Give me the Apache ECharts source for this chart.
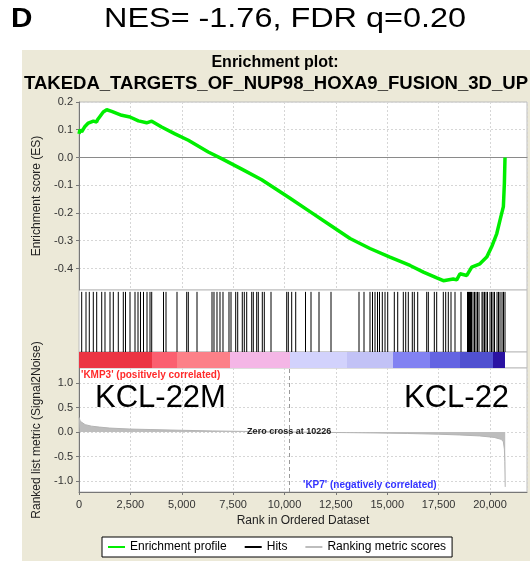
<!DOCTYPE html>
<html>
<head>
<meta charset="utf-8">
<script src="https://cdn.jsdelivr.net/npm/echarts@6/dist/echarts.min.js"></script>
<style>
  html, body { margin: 0; padding: 0; background: #fff; }
  #panel { position: absolute; left: 22px; top: 50px; width: 508px; height: 511px; background: #ece9d8; }
  #chart { position: absolute; left: 0; top: 0; width: 530px; height: 561px; }
</style>
</head>
<body>
<div id="panel"></div>
<div id="chart"></div>
<script>
// running enrichment score
const esRank = [0, 50, 130, 210, 290, 450, 520, 700, 860, 900, 1020, 1180, 1270, 1350, 1590,
  2080, 2480, 2890, 3290, 3540, 4020, 4670, 5320, 6290, 6940, 7920, 8890, 9860, 10270,
  11240, 12210, 13190, 14160, 15130, 16110, 16760, 17410, 17730, 18210, 18380, 18540,
  18870, 19110, 19510, 19840, 20080, 20330, 20490, 20650, 20700, 20730];
const esScore = [0.085, 0.1, 0.092, 0.097, 0.112, 0.124, 0.12, 0.131, 0.128, 0.136, 0.148, 0.164,
  0.16, 0.172, 0.166, 0.152, 0.146, 0.132, 0.125, 0.131, 0.11, 0.085, 0.062, 0.02, -0.004,
  -0.042, -0.08, -0.127, -0.147, -0.195, -0.243, -0.292, -0.328, -0.359, -0.389, -0.413,
  -0.434, -0.444, -0.438, -0.441, -0.419, -0.425, -0.395, -0.383, -0.359, -0.322, -0.274,
  -0.225, -0.177, -0.092, 0.0];

// positions of the gene set members in the ranked list
const hitRank = [131, 341, 501, 696, 861, 1105, 1265, 1509, 1669, 1912, 2156, 2263, 2482, 2725,
  2871, 2993, 3139, 3309, 3455, 3538, 4112, 4234, 4769, 5241, 5319, 5742, 6472, 6569, 6715,
  6861, 7007, 7299, 7397, 7625, 7723, 7946, 8044, 8161, 8404, 8482, 8647, 8725, 8920, 9017,
  9343, 10107, 10185, 10350, 10545, 11022, 11290, 11679, 12263, 13625, 13869, 14161, 14282,
  14404, 14526, 14623, 14759, 14891, 15022, 15343, 15509, 15781, 15898, 16024, 16219, 16316,
  16482, 16920, 16998, 17290, 17406, 17727, 17844, 17971, 18102, 18297, 18589, 18905, 18954,
  19002, 19051, 19100, 19173, 19246, 19319, 19392, 19465, 19611, 19659, 19732, 19805, 19878,
  20000, 20073, 20146, 20219, 20341, 20414, 20487, 20584, 20657, 20730];

// ranked list metric (Signal2Noise)
const metricRank = [0, 20, 60, 150, 300, 600, 1000, 1500, 2500, 3500, 5000, 6500, 8000, 9200,
  10226, 11500, 13000, 14500, 16000, 17500, 18500, 19500, 20200, 20550, 20650, 20700, 20720, 20740];
const metricValue = [0.3, 0.26, 0.22, 0.18, 0.15, 0.12, 0.1, 0.08, 0.06, 0.05, 0.035, 0.022,
  0.012, 0.005, 0, -0.006, -0.012, -0.02, -0.03, -0.045, -0.06, -0.08, -0.11, -0.15, -0.2,
  -0.35, -0.6, -1.12];

// edges of the colour band below the hits
const bandEdges = [0, 3552, 4769, 7348, 10268, 13041, 15280, 17080, 18540, 20146, 20730];

const esTicks = [0.2, 0.1, 0, -0.1, -0.2, -0.3, -0.4];
const metricTicks = [1, 0.5, 0, -0.5, -1];
const zeroCross = 10226;
const rankMax = 21800;

const bandColors = ['#ec3443', '#fb5f70', '#fc8088', '#f4b6e6', '#d2d2fc', '#c2c2f6',
  '#8282f2', '#6464e2', '#5050d0', '#2a12a2'];

const font = 'Liberation Sans, Arial, sans-serif';
const gridStyle = {
  left: 79, right: 3, show: true, backgroundColor: '#fff', borderColor: '#bcbcbc', borderWidth: 1,
  containLabel: false, outerBoundsMode: 'none'
};
const dashed = { show: true, lineStyle: { color: '#d6d6d6', type: [2, 2] } };

function hiddenX(i) {
  return { type: 'value', gridIndex: i, min: 0, max: rankMax, show: false };
}
function hiddenY(i) {
  return { type: 'value', gridIndex: i, min: 0, max: 1, show: false };
}

const chart = echarts.init(document.getElementById('chart'));
chart.setOption({
  animation: false,
  textStyle: { fontFamily: font },
  grid: [
    Object.assign({ top: 102, height: 188 }, gridStyle),
    Object.assign({ top: 290, height: 62 }, gridStyle),
    Object.assign({ top: 352, height: 16 }, gridStyle),
    Object.assign({ top: 368, height: 124 }, gridStyle)
  ],
  xAxis: [
    {
      type: 'value', gridIndex: 0, min: 0, max: rankMax, interval: 2500,
      axisLine: { show: true, onZero: true, lineStyle: { color: '#8a8a8a' } },
      axisTick: { show: false }, axisLabel: { show: false },
      splitLine: dashed
    },
    hiddenX(1),
    hiddenX(2),
    {
      type: 'value', gridIndex: 3, min: 0, max: rankMax, interval: 2500,
      axisLine: { show: true, onZero: false, lineStyle: { color: '#777' } },
      axisTick: { show: true, length: 3, lineStyle: { color: '#777' } },
      axisLabel: {
        color: '#333', fontSize: 11, margin: 7, showMaxLabel: false,
        formatter: v => v.toLocaleString('en-US')
      },
      splitLine: dashed,
      name: 'Rank in Ordered Dataset', nameLocation: 'middle', nameGap: 23,
      nameTextStyle: { color: '#222', fontSize: 12 }
    }
  ],
  yAxis: [
    {
      type: 'value', gridIndex: 0, min: -0.4775, max: 0.2,
      axisLine: { show: true, lineStyle: { color: '#777' } },
      axisTick: { show: true, length: 3, customValues: esTicks, lineStyle: { color: '#777' } },
      axisLabel: { customValues: esTicks, color: '#333', fontSize: 11, margin: 6, formatter: v => v.toFixed(1) },
      splitLine: dashed,
      name: 'Enrichment score (ES)', nameLocation: 'middle', nameGap: 31,
      nameTextStyle: { color: '#222', fontSize: 12 }
    },
    hiddenY(1),
    hiddenY(2),
    {
      type: 'value', gridIndex: 3, min: -1.224, max: 1.306,
      axisLine: { show: true, lineStyle: { color: '#777' } },
      axisTick: { show: true, length: 3, customValues: metricTicks, lineStyle: { color: '#777' } },
      axisLabel: { customValues: metricTicks, color: '#333', fontSize: 11, margin: 6, formatter: v => v.toFixed(1) },
      splitLine: dashed,
      name: 'Ranked list metric (Signal2Noise)', nameLocation: 'middle', nameGap: 31,
      nameTextStyle: { color: '#222', fontSize: 12 }
    }
  ],
  legend: {
    left: 102, top: 537, padding: [4, 6], itemGap: 18,
    backgroundColor: '#fff', borderColor: '#000', borderWidth: 1, borderRadius: 0,
    icon: 'rect', itemWidth: 17, itemHeight: 2,
    textStyle: { color: '#000', fontSize: 12, fontFamily: font },
    data: ['Enrichment profile', 'Hits', 'Ranking metric scores']
  },
  series: [
    {
      name: 'Enrichment profile', type: 'line', xAxisIndex: 0, yAxisIndex: 0,
      data: esRank.map((r, i) => [r, esScore[i]]),
      showSymbol: false, color: '#00ee00',
      lineStyle: { color: '#00ee00', width: 3.5 }, z: 5
    },
    {
      name: 'Hits', type: 'custom', xAxisIndex: 1, yAxisIndex: 1,
      data: hitRank.map(r => [r]),
      itemStyle: { color: '#000' },
      renderItem: (params, api) => {
        const top = api.coord([api.value(0), 0.97]);
        const bottom = api.coord([api.value(0), 0]);
        return {
          type: 'line',
          shape: { x1: top[0], y1: top[1], x2: bottom[0], y2: bottom[1] },
          style: { stroke: '#000', lineWidth: 1 }
        };
      }
    },
    {
      name: 'band', type: 'custom', xAxisIndex: 2, yAxisIndex: 2,
      data: bandEdges.slice(0, -1).map((e, i) => [e, bandEdges[i + 1], i]),
      renderItem: (params, api) => {
        const p0 = api.coord([api.value(0), 1]);
        const p1 = api.coord([api.value(1), 0]);
        return {
          type: 'rect',
          shape: { x: p0[0], y: p0[1], width: p1[0] - p0[0], height: p1[1] - p0[1] },
          style: { fill: bandColors[api.value(2)] }
        };
      }
    },
    {
      name: 'Ranking metric scores', type: 'line', xAxisIndex: 3, yAxisIndex: 3,
      data: metricRank.map((r, i) => [r, metricValue[i]]),
      showSymbol: false, color: '#bdbdbd',
      lineStyle: { color: '#b4b4b4', width: 1 },
      areaStyle: { color: '#bdbdbd', opacity: 1 },
      markLine: {
        silent: true, symbol: 'none', label: { show: false },
        lineStyle: { color: '#999', type: [4, 3], width: 1 },
        data: [{ xAxis: zeroCross }]
      },
      markPoint: {
        silent: true, symbol: 'circle', symbolSize: 1,
        itemStyle: { color: 'rgba(0,0,0,0)' },
        label: {
          show: true, position: 'inside', formatter: 'Zero cross at ' + zeroCross,
          color: '#222', fontSize: 9, fontWeight: 'bold', fontFamily: font
        },
        data: [{ coord: [zeroCross, 0] }]
      }
    }
  ],
  graphic: [
    { type: 'text', x: 11, y: 20, scaleX: 1.1,
      style: { text: 'D', font: 'bold 27px ' + font, fill: '#000', verticalAlign: 'middle' } },
    { type: 'text', x: 285, y: 20, scaleX: 1.2,
      style: { text: 'NES= -1.76, FDR q=0.20', font: '27px ' + font, fill: '#000', align: 'center', verticalAlign: 'middle' } },
    { type: 'text', x: 275, y: 63,
      style: { text: 'Enrichment plot:', font: 'bold 16px ' + font, fill: '#000', align: 'center', verticalAlign: 'middle' } },
    { type: 'text', x: 276, y: 84, scaleX: 1.03,
      style: { text: 'TAKEDA_TARGETS_OF_NUP98_HOXA9_FUSION_3D_UP', font: 'bold 18px ' + font, fill: '#000', align: 'center', verticalAlign: 'middle' } },
    { type: 'text', x: 81, y: 375, z: 10,
      style: { text: "'KMP3' (positively correlated)", font: 'bold 10px ' + font, fill: '#ff2a2a', verticalAlign: 'middle' } },
    { type: 'text', x: 303, y: 485, z: 10,
      style: { text: "'KP7' (negatively correlated)", font: 'bold 10px ' + font, fill: '#3333ff', verticalAlign: 'middle' } },
    { type: 'text', x: 95, y: 398, z: 10,
      style: { text: 'KCL-22M', font: '31px ' + font, fill: '#000', verticalAlign: 'middle' } },
    { type: 'text', x: 404, y: 398, z: 10,
      style: { text: 'KCL-22', font: '31px ' + font, fill: '#000', verticalAlign: 'middle' } }
  ]
});
</script>
</body>
</html>
